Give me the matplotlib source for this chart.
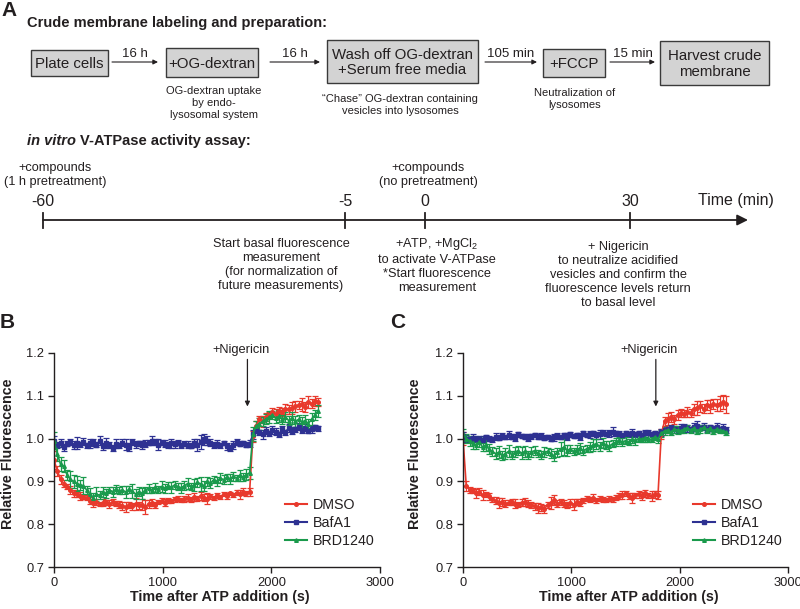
import numpy as np
import matplotlib
matplotlib.use("Agg")
import matplotlib.pyplot as plt
from matplotlib.patches import Rectangle
from matplotlib.lines import Line2D

plt.rcParams["font.family"] = ["Liberation Sans", "DejaVu Sans"]
plt.rcParams["mathtext.fontset"] = "custom"
plt.rcParams["mathtext.rm"] = "Liberation Sans"

INK = "#231f20"
RED = "#e8392c"
BLUE = "#2e3192"
GREEN = "#1a9a4c"

# ---- data ----
time_s = np.arange(0, 2431, 30)  # one reading every 30 s
labels = ["DMSO", "BafA1", "BRD1240"]

# panel B: compounds with 1 h pretreatment
b_dmso = [0.950, 0.925, 0.905, 0.895, 0.888, 0.880, 0.872, 0.870, 0.866, 0.864,
          0.862, 0.855, 0.850, 0.852, 0.848, 0.850, 0.851, 0.847, 0.852, 0.849,
          0.846, 0.843, 0.840, 0.845, 0.842, 0.848, 0.844, 0.846, 0.841, 0.847,
          0.850, 0.845, 0.852, 0.855, 0.850, 0.856, 0.854, 0.858, 0.860, 0.857,
          0.859, 0.862, 0.858, 0.864, 0.860, 0.866, 0.862, 0.860, 0.865, 0.862,
          0.868, 0.864, 0.870, 0.866, 0.872, 0.868, 0.874, 0.870, 0.876, 0.872,
          0.875, 1.005, 1.030, 1.045, 1.040, 1.050, 1.055, 1.062, 1.058, 1.065,
          1.062, 1.070, 1.068, 1.072, 1.075, 1.078, 1.080, 1.074, 1.085, 1.082,
          1.088, 1.086]
b_baf = [0.995, 0.985, 0.990, 0.980, 0.988, 0.992, 0.985, 0.990, 0.987, 0.993,
         0.984, 0.989, 0.991, 0.986, 0.995, 0.982, 0.990, 0.985, 0.978, 0.988,
         0.984, 0.990, 0.986, 0.980, 0.992, 0.987, 0.989, 0.985, 0.988, 0.990,
         0.995, 0.992, 0.986, 0.990, 0.988, 0.985, 0.989, 0.987, 0.990, 0.984,
         0.988, 0.986, 0.983, 0.990, 0.985, 0.992, 0.998, 0.995, 0.990, 0.985,
         0.988, 0.984, 0.990, 0.982, 0.978, 0.985, 0.992, 0.988, 0.990, 0.986,
         0.988, 1.010, 1.020, 1.015, 1.010, 1.018, 1.012, 1.020, 1.016, 1.010,
         1.022, 1.015, 1.025, 1.018, 1.022, 1.028, 1.020, 1.025, 1.018, 1.022,
         1.026, 1.024]
b_brd = [0.995, 0.965, 0.940, 0.935, 0.915, 0.905, 0.900, 0.895, 0.892, 0.890,
         0.880, 0.870, 0.862, 0.870, 0.868, 0.875, 0.872, 0.880, 0.876, 0.882,
         0.878, 0.880, 0.875, 0.882, 0.878, 0.870, 0.876, 0.872, 0.880, 0.884,
         0.880, 0.886, 0.882, 0.888, 0.884, 0.890, 0.886, 0.892, 0.888, 0.885,
         0.890, 0.895, 0.888, 0.892, 0.898, 0.894, 0.890, 0.900, 0.896, 0.904,
         0.900, 0.908, 0.904, 0.910, 0.906, 0.912, 0.908, 0.914, 0.910, 0.916,
         0.920, 1.010, 1.030, 1.035, 1.040, 1.045, 1.050, 1.055, 1.048, 1.052,
         1.045, 1.050, 1.042, 1.048, 1.040, 1.045, 1.038, 1.042, 1.035, 1.045,
         1.055, 1.065]
b_dmso_err = [0.020, 0.012, 0.010, 0.008, 0.006, 0.010, 0.008, 0.006, 0.010, 0.005,
              0.006, 0.008, 0.010, 0.006, 0.005, 0.008, 0.006, 0.010, 0.007, 0.006,
              0.008, 0.010, 0.012, 0.006, 0.008, 0.014, 0.008, 0.012, 0.016, 0.010,
              0.008, 0.006, 0.005, 0.006, 0.008, 0.006, 0.005, 0.006, 0.006, 0.005,
              0.006, 0.008, 0.006, 0.010, 0.006, 0.010, 0.008, 0.012, 0.006, 0.005,
              0.006, 0.004, 0.005, 0.006, 0.004, 0.005, 0.006, 0.010, 0.008, 0.006,
              0.010, 0.012, 0.010, 0.008, 0.012, 0.010, 0.008, 0.010, 0.012, 0.008,
              0.010, 0.012, 0.010, 0.014, 0.012, 0.010, 0.016, 0.012, 0.014, 0.010,
              0.012, 0.010]
b_baf_err = [0.012, 0.008, 0.010, 0.008, 0.006, 0.008, 0.010, 0.014, 0.006, 0.008,
             0.006, 0.010, 0.008, 0.006, 0.010, 0.008, 0.012, 0.006, 0.008, 0.010,
             0.006, 0.008, 0.012, 0.010, 0.006, 0.008, 0.006, 0.010, 0.008, 0.006,
             0.010, 0.008, 0.012, 0.006, 0.008, 0.006, 0.010, 0.008, 0.006, 0.005,
             0.006, 0.008, 0.006, 0.010, 0.014, 0.016, 0.012, 0.010, 0.008, 0.006,
             0.008, 0.006, 0.005, 0.008, 0.006, 0.010, 0.008, 0.006, 0.005, 0.006,
             0.008, 0.010, 0.008, 0.006, 0.010, 0.008, 0.006, 0.010, 0.008, 0.006,
             0.008, 0.006, 0.010, 0.008, 0.006, 0.008, 0.006, 0.008, 0.006, 0.008,
             0.006, 0.006]
b_brd_err = [0.020, 0.018, 0.016, 0.014, 0.012, 0.020, 0.016, 0.018, 0.012, 0.020,
             0.010, 0.014, 0.012, 0.016, 0.010, 0.012, 0.010, 0.008, 0.012, 0.010,
             0.008, 0.010, 0.014, 0.008, 0.016, 0.012, 0.010, 0.012, 0.008, 0.010,
             0.008, 0.010, 0.008, 0.012, 0.010, 0.008, 0.012, 0.010, 0.008, 0.012,
             0.010, 0.012, 0.008, 0.014, 0.010, 0.016, 0.012, 0.010, 0.012, 0.008,
             0.010, 0.012, 0.010, 0.008, 0.012, 0.010, 0.008, 0.012, 0.010, 0.012,
             0.014, 0.016, 0.012, 0.014, 0.010, 0.012, 0.014, 0.010, 0.012, 0.014,
             0.010, 0.012, 0.010, 0.014, 0.012, 0.010, 0.012, 0.014, 0.010, 0.014,
             0.012, 0.014]

# panel C: compounds added without pretreatment
c_dmso = [1.000, 0.890, 0.880, 0.878, 0.872, 0.876, 0.868, 0.870, 0.865, 0.858,
          0.855, 0.850, 0.852, 0.848, 0.850, 0.852, 0.848, 0.846, 0.850, 0.852,
          0.848, 0.845, 0.842, 0.838, 0.840, 0.836, 0.845, 0.850, 0.856, 0.848,
          0.852, 0.848, 0.845, 0.850, 0.846, 0.852, 0.850, 0.856, 0.860, 0.858,
          0.862, 0.856, 0.860, 0.858, 0.856, 0.860, 0.858, 0.862, 0.866, 0.868,
          0.872, 0.866, 0.862, 0.868, 0.870, 0.866, 0.872, 0.868, 0.866, 0.870,
          0.868, 1.010, 1.040, 1.045, 1.050, 1.045, 1.055, 1.060, 1.058, 1.062,
          1.060, 1.068, 1.072, 1.075, 1.070, 1.078, 1.075, 1.080, 1.078, 1.082,
          1.085, 1.080]
c_baf = [1.005, 1.000, 0.998, 1.002, 0.999, 1.000, 0.997, 1.003, 1.000, 0.998,
         1.004, 1.002, 1.006, 1.003, 1.008, 1.004, 1.002, 1.010, 1.006, 1.004,
         1.002, 1.005, 1.008, 1.004, 1.006, 1.002, 1.004, 1.000, 1.003, 1.006,
         1.004, 1.008, 1.004, 1.010, 1.006, 1.008, 1.004, 1.012, 1.008, 1.010,
         1.012, 1.008, 1.010, 1.014, 1.010, 1.012, 1.016, 1.012, 1.010, 1.008,
         1.012, 1.010, 1.014, 1.010, 1.012, 1.008, 1.012, 1.014, 1.010, 1.012,
         1.010, 1.015, 1.020, 1.022, 1.025, 1.022, 1.020, 1.025, 1.028, 1.024,
         1.022, 1.028, 1.030, 1.025, 1.028, 1.022, 1.026, 1.024, 1.028, 1.022,
         1.025, 1.020]
c_brd = [1.010, 1.000, 0.995, 0.990, 0.985, 0.992, 0.980, 0.985, 0.975, 0.970,
         0.965, 0.968, 0.960, 0.965, 0.970, 0.962, 0.968, 0.972, 0.966, 0.970,
         0.962, 0.968, 0.972, 0.966, 0.962, 0.968, 0.970, 0.965, 0.960, 0.968,
         0.975, 0.980, 0.972, 0.976, 0.970, 0.974, 0.978, 0.972, 0.976, 0.980,
         0.985, 0.988, 0.982, 0.990, 0.985, 0.982, 0.988, 0.992, 0.996, 0.992,
         0.995, 0.992, 0.998, 0.996, 1.000, 0.998, 1.002, 1.000, 0.998, 1.004,
         1.000, 1.012, 1.018, 1.020, 1.015, 1.022, 1.020, 1.018, 1.022, 1.025,
         1.020, 1.024, 1.018, 1.022, 1.026, 1.020, 1.024, 1.018, 1.022, 1.020,
         1.018, 1.015]
c_dmso_err = [0.015, 0.012, 0.008, 0.006, 0.010, 0.008, 0.012, 0.006, 0.008, 0.006,
              0.008, 0.012, 0.010, 0.008, 0.006, 0.008, 0.010, 0.006, 0.008, 0.010,
              0.008, 0.006, 0.008, 0.012, 0.008, 0.010, 0.006, 0.014, 0.012, 0.008,
              0.006, 0.008, 0.006, 0.010, 0.012, 0.006, 0.008, 0.006, 0.005, 0.006,
              0.008, 0.006, 0.005, 0.006, 0.004, 0.006, 0.005, 0.006, 0.008, 0.010,
              0.006, 0.008, 0.012, 0.006, 0.008, 0.010, 0.008, 0.006, 0.012, 0.008,
              0.010, 0.012, 0.010, 0.014, 0.012, 0.010, 0.012, 0.010, 0.008, 0.012,
              0.010, 0.014, 0.016, 0.012, 0.010, 0.012, 0.016, 0.012, 0.014, 0.018,
              0.016, 0.020]
c_baf_err = [0.010, 0.008, 0.006, 0.008, 0.006, 0.005, 0.008, 0.006, 0.005, 0.006,
             0.008, 0.006, 0.008, 0.005, 0.010, 0.006, 0.008, 0.006, 0.005, 0.006,
             0.008, 0.006, 0.005, 0.006, 0.008, 0.006, 0.005, 0.006, 0.008, 0.006,
             0.005, 0.006, 0.008, 0.006, 0.005, 0.006, 0.008, 0.006, 0.005, 0.008,
             0.006, 0.008, 0.010, 0.006, 0.005, 0.008, 0.010, 0.006, 0.008, 0.006,
             0.005, 0.006, 0.008, 0.006, 0.005, 0.006, 0.008, 0.006, 0.005, 0.006,
             0.006, 0.008, 0.006, 0.005, 0.006, 0.008, 0.006, 0.010, 0.006, 0.008,
             0.006, 0.008, 0.012, 0.006, 0.008, 0.006, 0.005, 0.006, 0.008, 0.006,
             0.008, 0.006]
c_brd_err = [0.012, 0.010, 0.012, 0.014, 0.010, 0.012, 0.010, 0.014, 0.012, 0.010,
             0.012, 0.014, 0.010, 0.012, 0.014, 0.010, 0.012, 0.010, 0.014, 0.012,
             0.010, 0.012, 0.010, 0.008, 0.010, 0.012, 0.008, 0.010, 0.012, 0.010,
             0.016, 0.018, 0.012, 0.010, 0.008, 0.010, 0.012, 0.010, 0.008, 0.012,
             0.014, 0.012, 0.010, 0.012, 0.010, 0.012, 0.008, 0.010, 0.008, 0.010,
             0.008, 0.006, 0.008, 0.010, 0.008, 0.006, 0.010, 0.008, 0.006, 0.008,
             0.010, 0.008, 0.010, 0.008, 0.006, 0.008, 0.010, 0.006, 0.008, 0.006,
             0.008, 0.006, 0.008, 0.010, 0.006, 0.008, 0.006, 0.008, 0.006, 0.008,
             0.006, 0.006]

# ---- figure ----
fig = plt.figure(figsize=(8, 6.09), dpi=100)

# overlay in pixel units for the schematic (y runs downwards)
ax0 = fig.add_axes([0, 0, 1, 1])
ax0.set_xlim(0, 800)
ax0.set_ylim(609, 0)
ax0.axis("off")

ax0.text(1, 11, "A", fontsize=15, fontweight="bold", color=INK, va="center")
ax0.text(27, 23, "Crude membrane labeling and preparation:", fontsize=10.5,
         fontweight="bold", color=INK, va="center")

boxes = [("Plate cells", 31, 50, 77, 26),
         ("+OG-dextran", 166, 48, 92, 29),
         ("Wash off OG-dextran\n+Serum free media", 327, 40, 151, 43),
         ("+FCCP", 543, 49, 62, 28),
         ("Harvest crude\nmembrane", 660, 41, 109, 44)]
for txt, x, y, w, h in boxes:
    ax0.add_patch(Rectangle((x, y), w, h, facecolor="#d3d3d3",
                            edgecolor="#3a3a3a", lw=1.0))
    ax0.text(x + w / 2, y + h / 2 + 1, txt, fontsize=10.8, color=INK,
             ha="center", va="center", linespacing=1.15)

steps = [(112, 158, "16 h"), (270, 320, "16 h"),
         (485, 537, "105 min"), (610, 655, "15 min")]
for x1, x2, txt in steps:
    ax0.annotate("", xy=(x2, 62), xytext=(x1, 62),
                 arrowprops=dict(arrowstyle="-|>", color=INK, lw=0.8,
                                 mutation_scale=7, shrinkA=0, shrinkB=0))
    ax0.text((x1 + x2) / 2, 54, txt, fontsize=9.5, color=INK,
             ha="center", va="center")

notes = [(214, 103, "OG-dextran uptake\nby endo-\nlysosomal system"),
         (400, 105, "\u201cChase\u201d OG-dextran containing\nvesicles into lysosomes"),
         (575, 99, "Neutralization of\nlysosomes")]
for x, y, txt in notes:
    ax0.text(x, y, txt, fontsize=8, color=INK, ha="center", va="center",
             linespacing=1.2)

# assay timeline
ax0.text(27, 141, "in vitro", fontsize=10.5, color=INK, va="center",
         fontweight="bold", style="italic")
ax0.text(80, 141, "V-ATPase activity assay:", fontsize=10.5,
         color=INK, va="center", fontweight="bold")

ax0.annotate("", xy=(748, 220), xytext=(43, 220),
             arrowprops=dict(arrowstyle="-|>", color=INK, lw=1.3,
                             mutation_scale=16, shrinkA=0, shrinkB=0))
tl_ticks = [(43, "-60"), (345, "-5"), (425, "0"), (630, "30")]
for x, lab in tl_ticks:
    ax0.plot([x, x], [213, 228], color=INK, lw=1.3)
    ax0.text(x, 201, lab, fontsize=11.5, color=INK, ha="center", va="center")
ax0.text(698, 201, "Time (min)", fontsize=11.5, color=INK, va="center")

ax0.text(55, 175, "+compounds\n(1 h pretreatment)", fontsize=9.2, color=INK,
         ha="center", va="center", linespacing=1.2)
ax0.text(428, 175, "+compounds\n(no pretreatment)", fontsize=9.2, color=INK,
         ha="center", va="center", linespacing=1.2)
ax0.text(281, 265, "Start basal fluorescence\nmeasurement\n(for normalization of\nfuture measurements)",
         fontsize=9.2, color=INK, ha="center", va="center", linespacing=1.2)
ax0.text(437, 265, "+ATP, +MgCl$_\\mathregular{2}$\nto activate V-ATPase\n*Start fluorescence\nmeasurement",
         fontsize=9.2, color=INK, ha="center", va="center", linespacing=1.2)
ax0.text(618, 275, "+ Nigericin\nto neutralize acidified\nvesicles and confirm the\nfluorescence levels return\nto basal level",
         fontsize=9.2, color=INK, ha="center", va="center", linespacing=1.2)

ax0.text(0, 322, "B", fontsize=15, fontweight="bold", color=INK, va="center")
ax0.text(390, 322, "C", fontsize=15, fontweight="bold", color=INK, va="center")

# ---- kinetic panels ----
panels = [
    ([54 / 800, 42 / 609, 326 / 800, 214 / 609],
     [b_dmso, b_baf, b_brd], [b_dmso_err, b_baf_err, b_brd_err], -0.12),
    ([463 / 800, 42 / 609, 325 / 800, 214 / 609],
     [c_dmso, c_baf, c_brd], [c_dmso_err, c_baf_err, c_brd_err], -0.126),
]
colors = [RED, BLUE, GREEN]
markers = ["o", "s", "^"]

for rect, series, errs, ylab_x in panels:
    ax = fig.add_axes(rect)
    for vals, err, col, mk, lab in zip(series, errs, colors, markers, labels):
        ax.errorbar(time_s, vals, yerr=err, color=col, marker=mk, ms=2.6,
                    lw=1.2, elinewidth=0.9, capsize=2, capthick=0.9, label=lab)
    ax.set_xlim(0, 3000)
    ax.set_ylim(0.7, 1.2)
    ax.set_xticks([0, 1000, 2000, 3000])
    ax.set_yticks([0.7, 0.8, 0.9, 1.0, 1.1, 1.2])
    ax.set_yticklabels(["0.7", "0.8", "0.9", "1.0", "1.1", "1.2"])
    for s in ["top", "right"]:
        ax.spines[s].set_visible(False)
    for s in ["left", "bottom"]:
        ax.spines[s].set_linewidth(1.0)
        ax.spines[s].set_color(INK)
    ax.tick_params(direction="out", length=4, width=1.0, labelsize=9.3,
                   colors=INK, pad=3)
    ax.set_ylabel("Relative Fluorescence", fontsize=10.3, fontweight="bold",
                  color=INK)
    ax.yaxis.set_label_coords(ylab_x, 0.53)
    ax.set_xlabel("Time after ATP addition (s)", fontsize=10.3,
                  fontweight="bold", color=INK)
    ax.xaxis.set_label_coords(0.51, -0.107)

    ax.annotate("", xy=(1780, 1.075), xytext=(1780, 1.185),
                arrowprops=dict(arrowstyle="-|>", color=INK, lw=0.9,
                                mutation_scale=7, shrinkA=0, shrinkB=0),
                annotation_clip=False)
    ax.text(1720, 1.208, "+Nigericin", fontsize=9.3, color=INK,
            ha="center", va="center", clip_on=False)

    handles = [Line2D([], [], color=c, marker=m, ms=2.6, lw=1.5)
               for c, m in zip(colors, markers)]
    ax.legend(handles, labels, loc="lower right", bbox_to_anchor=(1.0, 0.06),
              frameon=False, fontsize=10.3, handlelength=1.5,
              handletextpad=0.4, labelspacing=0.3, borderaxespad=0,
              labelcolor=INK)

fig.savefig("out.png", dpi=100)
